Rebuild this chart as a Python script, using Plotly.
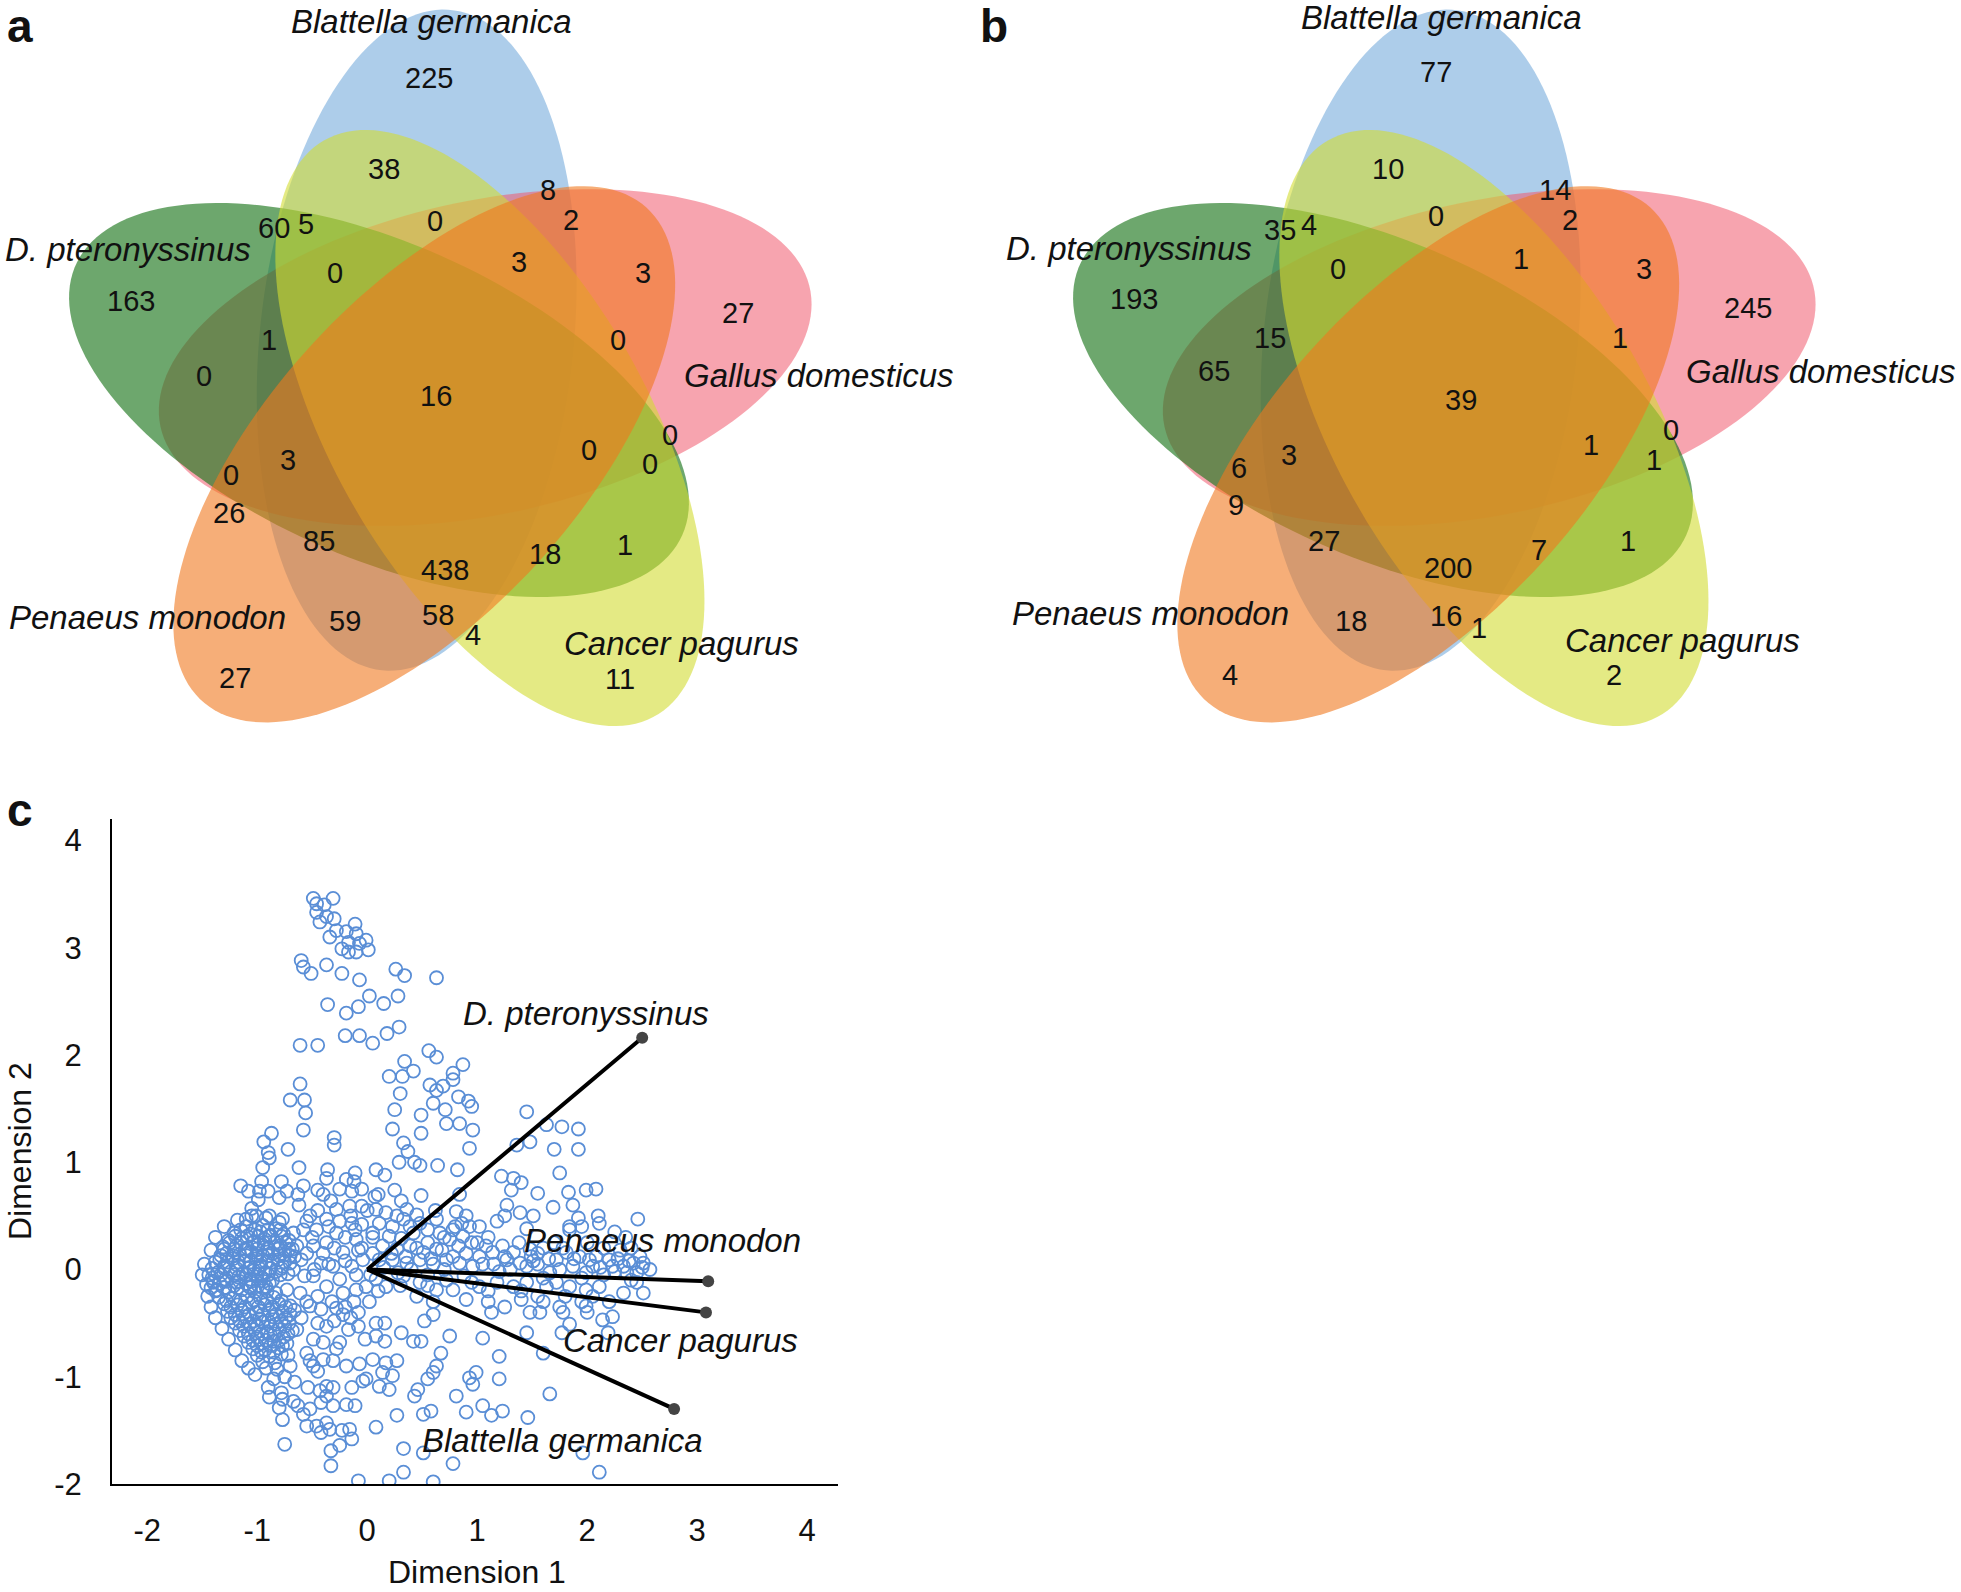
import numpy as np
import plotly.graph_objects as go

W, H = 1961, 1592      # reference frame used for all positions below
FIG_H = 1610           # page height (compensates the capture's vertical scaling)

# ---------------- DATA ----------------
species = ["Blattella germanica", "Gallus domesticus", "Cancer pagurus",
           "Penaeus monodon", "D. pteronyssinus"]

counts_a = [225, 38, 8, 0, 60, 5, 2, 3, 3, 0, 27, 163, 1, 0, 0, 16, 0, 0, 0,
            3, 0, 26, 85, 1, 18, 438, 59, 58, 4, 27, 11]
counts_b = [77, 10, 14, 0, 35, 4, 2, 1, 3, 0, 245, 193, 15, 1, 65, 39, 0, 1, 1,
            3, 6, 9, 27, 1, 7, 200, 18, 16, 1, 4, 2]

dim1 = [
 -0.49,-0.46,-0.31,-0.46,-0.39,-0.43,-0.37,-0.30,-0.34,-0.28,-0.19,-0.11,-0.10,-0.17,-0.23,-0.17,-0.10,-0.01,0.01,-0.07,
 -0.60,-0.58,-0.51,-0.37,-0.23,-0.07,0.26,0.34,0.63,-0.36,-0.19,-0.08,0.02,0.15,0.28,-0.61,-0.45,-0.20,-0.07,0.05,
 0.18,0.29,0.56,0.63,0.34,0.42,0.20,0.32,0.30,0.25,-0.61,-0.70,-0.57,-0.56,0.49,0.57,0.63,0.60,
 0.87,0.78,0.78,0.69,0.83,0.92,0.95,0.71,1.45,
 -0.58,-0.87,-0.30,-0.30,-0.94,-0.72,-0.90,-0.89,-0.95,-0.62,-0.36,-0.37,-0.11,-0.19,-0.12,-0.96,-0.78,-1.15,-1.08,-0.98,
 -0.90,-0.73,-0.58,-0.45,-0.63,-0.14,-0.33,-0.16,-0.05,-0.80,-0.99,-1.05,
 -0.52,-0.46,-0.37,-0.28,-0.49,-0.37,-0.28,-0.22,-0.42,-0.31,-0.49,-0.37,-0.25,-0.14,-0.11,-0.10,-0.04,-0.14,-0.22,-0.10,
 -0.01,-0.58,-0.60,-0.57,-0.61,-0.73,-0.83,-0.92,-1.07,-1.19,-1.40,-1.37,-1.10,-1.01,-0.89,-0.77,-0.67,-0.64,
 -1.10,-0.95,-0.83,-1.21,-1.06,-0.97,-0.88,-0.76,-1.26,-1.14,-1.03,-0.93,-0.84,-0.71,-1.31,-1.19,-1.09,-0.99,-0.90,-0.79,
 -0.68,-1.28,-1.16,-1.05,-0.95,-0.86,-0.75,-0.66,-1.34,-1.22,-1.12,-1.01,-0.92,-0.81,-0.70,-1.30,-1.18,-1.07,-0.97,-0.88,
 -0.77,-0.67,-1.36,-1.24,-1.13,-1.03,-0.93,-0.83,-0.72,-1.41,-1.29,-1.17,-1.06,-0.96,-0.86,-1.46,-1.34,-1.21,-1.10,-0.99,
 -0.89,-1.38,-1.26,-1.14,-1.02,-0.91,
 -1.35,-1.22,-1.09,-0.97,-0.85,-1.30,-1.18,-1.05,-0.93,-0.80,-0.70,-1.27,-1.14,-1.01,-0.89,-0.77,-0.66,-1.24,-1.11,-0.98,
 -0.86,-0.74,-1.20,-1.07,-0.95,-0.83,-0.71,-1.16,-1.03,-0.91,-0.80,-0.68,-1.12,-1.00,-0.88,-0.76,-1.08,-0.96,-0.85,-0.73,
 -1.04,-0.93,-0.81,-1.00,-0.89,-0.78,-0.95,-0.84,-0.92,-0.82,
 -0.90,-0.89,-0.78,-0.77,-0.80,-0.77,-0.66,-0.67,-0.63,-0.58,-0.55,-0.46,-0.37,-0.34,-0.42,-0.52,-0.54,-0.43,-0.37,-0.31,
 -0.42,-0.31,-0.37,-0.19,-0.11,-0.14,-0.04,-0.23,-0.16,-0.14,-0.25,-0.33,-0.33,-0.75,-0.08,
 -0.52,-0.42,-0.28,-0.22,-0.37,-0.49,-0.40,-0.28,-0.25,-0.17,-0.08,-0.02,-0.19,-0.07,-0.01,-0.49,-0.45,-0.52,-0.40,-0.31,
 -0.55,-0.64,
 0.23,0.49,0.72,0.84,0.96,0.33,0.37,0.93,1.36,1.48,1.63,1.77,1.92,1.70,1.92,0.08,0.16,0.29,0.43,0.48,
 0.64,0.82,1.22,1.33,1.40,1.31,1.75,1.55,1.83,1.99,2.08,1.87,1.69,0.07,0.25,0.31,0.49,0.84,1.27,1.39,
 1.25,1.51,2.46,2.10,2.11,1.92,1.84,1.95,
 0.08,0.17,0.27,0.36,0.45,0.11,0.23,0.33,0.39,0.48,0.05,0.20,0.31,0.42,0.55,0.63,0.66,0.14,0.27,0.39,
 0.51,0.63,0.11,0.23,0.36,0.48,0.60,
 0.81,0.90,0.86,0.78,0.93,0.87,0.83,1.02,0.75,1.08,1.14,1.02,0.96,0.84,0.72,1.23,1.33,1.27,1.39,1.48,
 1.49,1.51,1.45,
 1.84,1.81,1.72,1.87,2.02,2.05,2.08,2.20,2.23,2.33,2.42,2.51,2.57,2.45,2.36,1.99,1.66,
 0.08,0.17,0.33,0.48,0.63,0.78,1.02,1.18,1.33,1.45,1.63,1.72,1.84,1.99,2.11,2.33,2.51,
 0.08,0.16,0.08,0.16,0.31,0.42,0.49,0.52,0.60,0.75,1.05,1.13,1.45,1.48,1.57,1.78,1.77,1.84,1.99,2.14,
 2.23,2.19,1.60,1.20,0.67,0.05,0.17,0.27,0.14,0.23,0.11,0.20,0.63,0.60,0.55,0.46,0.43,0.93,0.99,0.96,
 1.20,0.81,0.90,1.05,1.13,1.23,1.46,1.66,0.51,0.58,0.27,0.08,0.33,0.51,0.78,0.33,2.11,1.96,
 -0.05,0.03,-0.12,0.05,0.20,0.60,
 0.15,0.28,0.40,0.55,0.70,0.88,1.05,1.20,1.30,1.55,1.60,1.75,1.93,1.95,2.15,2.28,2.40,2.30,2.15,2.00,
 1.70,1.60,1.10,0.95,0.70,0.55,0.45,0.60,0.90,1.10,1.25,1.40,1.60,1.80,1.95,2.05,2.20,2.40,2.48,2.35,
 -0.55,-0.45,-0.35,-0.25,-0.15,-0.05,-0.50,-0.40,-0.30,-0.20,-0.08,-0.55,-0.48,-0.35,-0.20,-0.10,-0.55,-0.45,-0.32,-0.20,
 -0.08,-0.60,-0.45,-0.30,-0.15,0.02,0.10,0.05,-0.62,-0.40,-0.25,-0.05,0.10,0.00,
 -1.50,-1.48,-1.42,-1.38,-1.30,-1.18,-1.05,-0.92,-0.80,-1.45,-1.42,-1.38,-1.32,-1.26,-1.20,-1.14,-1.08,-1.02,-0.72,-0.70,
 -0.75,-0.85,
 -1.15,-1.02,-0.90,-0.79,-1.20,-1.09,-0.99,-0.89,-0.78,-1.25,-1.15,-1.04,-0.94,-0.84,-0.74,-1.30,-1.21,-1.11,-1.00,-0.91,
 -0.81,-0.71,-1.33,-1.22,-1.10,-1.00,-0.90,-0.80,-0.70,-1.38,-1.27,-1.17,-1.06,-0.97,-0.86,-0.75,-1.41,-1.30,-1.19,-1.08,
 -0.98,-0.88,-0.78,-1.44,-1.33,-1.21,-1.10,-1.00,-0.90,-0.79,-1.40,-1.28,-1.16,-1.05,-0.94,-1.42,-1.30,-1.18,-1.06,-0.95,
 -1.28,-1.15,-1.03,-0.91,-0.78,-1.24,-1.11,-0.99,-0.86,-0.74,-1.20,-1.07,-0.95,-0.83,-0.70,-1.16,-1.03,-0.90,-0.78,-1.12,
 -1.00,-0.88,-0.75,-1.08,-0.96,-0.84,-0.72,-1.04,-0.92,-0.80,-1.00,-0.88,-0.77,-0.96,-0.85,
 0.22,0.35,0.45,0.58,0.68,0.78,0.90,1.00,1.15,1.25,1.38,1.55,1.65,1.78,1.88,2.12,2.25,2.38,2.50,2.45,
 0.30,0.55,0.72,0.95,1.10,1.40,1.55,1.75,2.00,0.80,0.62,1.18,1.45,2.25,
]
dim2 = [
 3.46,3.41,3.46,3.33,3.40,3.24,3.29,3.27,3.10,3.16,3.15,3.22,3.13,3.05,2.99,2.96,2.96,3.07,2.98,3.04,
 2.88,2.82,2.76,2.84,2.76,2.70,2.80,2.74,2.72,2.47,2.39,2.45,2.55,2.48,2.55,2.09,2.09,2.18,2.18,2.11,
 2.20,2.26,2.04,1.98,1.94,1.85,1.80,1.80,1.64,1.49,1.73,1.58,1.58,1.46,1.44,1.72,1.67,1.55,
 1.91,1.83,1.77,1.71,1.61,1.57,1.52,1.49,1.47,
 1.30,1.27,1.23,1.16,1.19,1.12,1.09,1.04,0.95,0.95,0.93,0.85,0.90,0.84,0.82,0.82,0.82,0.78,0.73,0.73,
 0.73,0.73,0.78,0.74,0.70,0.73,0.64,0.59,0.59,0.67,0.65,0.57,
 0.50,0.37,0.47,0.56,0.22,0.25,0.34,0.16,0.06,0.03,-0.06,-0.16,-0.09,0.43,0.37,0.28,0.09,0.03,-0.22,-0.19,
 -0.16,0.37,0.09,-0.06,-0.22,-0.19,-0.22,-0.16,-0.16,-0.12,-0.12,-0.19,0.47,0.50,0.50,0.47,0.34,0.22,
 0.40,0.41,0.38,0.34,0.33,0.35,0.32,0.33,0.27,0.29,0.26,0.28,0.25,0.27,0.21,0.22,0.20,0.23,0.20,0.22,
 0.19,0.15,0.14,0.16,0.13,0.15,0.14,0.12,0.09,0.10,0.08,0.10,0.07,0.09,0.06,0.03,0.04,0.02,0.04,0.01,
 0.03,0.00,-0.03,-0.02,-0.04,-0.01,-0.03,-0.02,-0.04,-0.08,-0.09,-0.07,-0.09,-0.08,-0.10,-0.14,-0.13,-0.15,-0.13,-0.15,
 -0.13,-0.20,-0.21,-0.19,-0.21,-0.20,
 -0.26,-0.27,-0.25,-0.27,-0.26,-0.32,-0.33,-0.31,-0.33,-0.32,-0.34,-0.39,-0.38,-0.40,-0.38,-0.39,-0.38,-0.45,-0.44,-0.46,
 -0.44,-0.45,-0.50,-0.51,-0.49,-0.51,-0.50,-0.57,-0.56,-0.58,-0.56,-0.57,-0.62,-0.63,-0.61,-0.63,-0.68,-0.69,-0.67,-0.69,
 -0.74,-0.75,-0.73,-0.80,-0.81,-0.79,-0.86,-0.87,-0.92,-0.93,
 -1.10,-1.19,-1.15,-1.21,-1.29,-1.40,-1.05,-1.23,-1.27,-1.35,-1.46,-1.46,-1.43,-1.49,-1.52,-1.30,-1.10,-1.13,-1.09,-1.10,
 -1.24,-1.27,-1.18,-1.26,-1.27,-1.10,-1.04,-1.50,-1.49,-1.58,-1.64,-1.69,-1.83,-1.63,-1.97,
 -0.34,-0.37,-0.36,-0.42,-0.53,-0.65,-0.68,-0.74,-0.68,-0.56,-0.53,-0.65,-0.90,-0.88,-1.02,-0.90,-0.95,-0.85,-0.84,-0.85,
 -0.78,-0.56,
 1.31,1.27,1.36,1.36,1.30,1.18,1.10,1.13,1.16,1.19,1.35,1.33,1.31,1.12,1.12,0.93,0.88,1.00,1.00,0.97,
 0.97,0.93,0.87,0.85,0.81,0.74,0.90,0.71,0.72,0.74,0.75,0.60,0.58,0.68,0.74,0.64,0.69,0.70,0.60,0.53,
 0.50,0.50,0.47,0.50,0.43,0.48,0.40,0.40,
 0.56,0.53,0.50,0.56,0.51,0.43,0.40,0.47,0.40,0.43,0.34,0.31,0.29,0.34,0.37,0.47,0.34,0.22,0.19,0.22,
 0.16,0.19,0.09,0.09,0.06,0.09,0.05,
 0.54,0.50,0.43,0.37,0.40,0.31,0.22,0.40,0.28,0.22,0.16,0.12,0.03,0.06,0.09,0.22,0.16,0.09,0.06,0.19,
 0.12,0.08,0.03,
 0.37,0.16,0.09,0.03,0.09,0.03,0.12,0.09,0.03,0.03,0.06,0.06,0.00,-0.03,-0.03,-0.03,-0.03,
 -0.09,-0.16,-0.06,-0.12,-0.19,-0.19,-0.16,-0.12,-0.16,-0.12,-0.16,-0.12,-0.16,-0.19,-0.16,-0.22,-0.22,
 -0.50,-0.50,-0.62,-0.67,-0.59,-0.67,-0.67,-0.48,-0.42,-0.62,-0.64,-0.40,-0.59,-0.40,-0.40,-0.40,-0.59,-0.51,-0.34,-0.47,
 -0.44,-0.59,-0.78,-0.81,-0.78,-0.84,-0.87,-0.85,-0.96,-0.99,-1.09,-1.12,-0.90,-0.96,-1.02,-1.12,-1.18,-1.01,-0.96,-1.07,
 -1.02,-1.18,-1.33,-1.27,-1.36,-1.32,-1.38,-1.16,-1.35,-1.32,-1.36,-1.47,-1.67,-1.71,-1.81,-1.89,-1.89,-1.71,
 0.20,-0.05,-0.30,0.30,-1.97,-1.98,
 0.02,-0.03,0.00,-0.05,0.00,-0.06,0.05,-0.02,0.00,0.05,-0.08,0.00,0.12,-0.08,-0.05,0.10,-0.10,0.18,0.20,0.25,
 0.25,0.20,0.30,0.25,0.30,0.25,-0.25,-0.30,-0.28,-0.30,-0.35,-0.28,-0.30,-0.25,-0.30,-0.25,-0.30,0.20,0.12,0.30,
 0.45,0.55,0.40,0.45,0.50,0.42,0.30,0.15,0.20,0.30,0.18,0.15,0.00,0.05,0.08,-0.05,-0.30,-0.25,-0.30,-0.35,
 -0.40,-0.45,-0.50,-0.48,-0.45,-0.30,-0.20,0.15,0.60,0.70,0.75,0.75,0.70,0.55,
 -0.05,0.05,0.18,0.30,0.40,0.46,0.50,0.48,0.44,-0.25,-0.35,-0.45,-0.55,-0.65,-0.75,-0.85,-0.92,-0.98,-0.80,-0.90,
 -1.00,-1.02,
 0.37,0.37,0.37,0.37,0.31,0.31,0.31,0.31,0.31,0.25,0.25,0.25,0.25,0.25,0.25,0.19,0.19,0.19,0.19,0.19,
 0.19,0.19,0.13,0.13,0.13,0.13,0.13,0.13,0.13,0.07,0.07,0.07,0.07,0.07,0.07,0.07,0.01,0.01,0.01,0.01,
 0.01,0.01,0.01,-0.05,-0.05,-0.05,-0.05,-0.05,-0.05,-0.05,-0.11,-0.11,-0.11,-0.11,-0.11,-0.17,-0.17,-0.17,-0.17,-0.17,
 -0.29,-0.29,-0.29,-0.29,-0.29,-0.35,-0.35,-0.35,-0.35,-0.35,-0.42,-0.42,-0.42,-0.42,-0.42,-0.48,-0.48,-0.48,-0.48,-0.53,
 -0.53,-0.53,-0.53,-0.60,-0.60,-0.60,-0.60,-0.66,-0.66,-0.66,-0.71,-0.71,-0.71,-0.77,-0.77,
 0.15,0.12,0.20,0.10,0.18,0.12,0.15,0.25,0.05,0.12,0.25,0.15,0.10,0.20,0.10,0.02,-0.02,0.08,0.02,-0.12,
 -0.15,-0.15,-0.10,-0.12,-0.20,-0.20,-0.25,-0.35,-0.40,0.40,0.55,0.45,0.38,0.35,
]

load_names = ["D. pteronyssinus", "Penaeus monodon", "Cancer pagurus", "Blattella germanica"]
load_x = [2.50, 3.10, 3.08, 2.79]
load_y = [2.16, -0.11, -0.40, -1.30]

x_ticks = [-2, -1, 0, 1, 2, 3, 4]
y_ticks = [-2, -1, 0, 1, 2, 3, 4]
x_tick_text = ["-2", "-1", "0", "1", "2", "3", "4"]
y_tick_text = ["-2", "-1", "0", "1", "2", "3", "4"]

# ---------------- LAYOUT GEOMETRY (pixels) ----------------
pos_a = [(343,62),(307,135),(438,152),(348,177),(219,182),(245,179),(457,176),(415,210),(514,218),(268,218),
         (590,250),(105,241),(215,272),(494,272),(163,301),(349,317),(536,348),(471,360),(520,371),(230,368),
         (185,380),(183,410),(255,433),(500,436),(436,443),(356,456),(276,497),(350,492),(378,508),(188,542),(496,543)]
pos_b = [(1149,58),(1110,135),(1244,152),(1149,173),(1024,184),(1047,180),(1256,176),(1217,207),(1315,215),(1070,215),
         (1398,246),(907,239),(1016,270),(1296,270),(971,297),(1169,320),(1337,344),(1273,356),(1323,368),(1031,364),
         (991,374),(989,404),(1059,433),(1302,433),(1231,440),(1158,454),(1081,497),(1157,493),(1183,502),(984,540),(1291,540)]
title_a = [(345,17),(655,300),(545,515),(118,494),(102,200)]
title_b = [(1153,14),(1457,297),(1346,512),(920,491),(903,199)]
S = 1.25  # shrunk-to-full scale for positions read above

def px(x):
    return x / W
def py(y):
    return 1 - y / H

fill = {"Blattella germanica": "rgba(91,155,213,0.50)",
        "Gallus domesticus": "rgba(240,90,110,0.55)",
        "D. pteronyssinus": "rgba(30,120,30,0.65)",
        "Cancer pagurus": "rgba(210,220,50,0.60)",
        "Penaeus monodon": "rgba(240,120,30,0.60)"}
rot_index = {"D. pteronyssinus": 0, "Blattella germanica": 1, "Gallus domesticus": 2,
             "Cancer pagurus": 3, "Penaeus monodon": 4}
draw_order = ["Blattella germanica", "Gallus domesticus", "D. pteronyssinus",
              "Cancer pagurus", "Penaeus monodon"]

base_off = np.array([-60.0, 4.0])
base_theta = 24.0
A_AX, B_AX = 157.0, 332.0

def ellipse_path(O, k):
    ang = np.deg2rad(72 * k)
    R = np.array([[np.cos(ang), -np.sin(ang)], [np.sin(ang), np.cos(ang)]])
    c = np.array(O) + R @ base_off
    th = np.deg2rad(base_theta + 72 * k)
    t = np.linspace(0, 2 * np.pi, 160)
    u, v = B_AX * np.cos(t), A_AX * np.sin(t)
    xs = c[0] + u * np.cos(th) - v * np.sin(th)
    ys = c[1] + u * np.sin(th) + v * np.cos(th)
    pts = [f"{px(x):.5f},{py(y):.5f}" for x, y in zip(xs, ys)]
    return "M " + " L ".join(pts) + " Z"

shapes = []
annotations = []
font_fam = "Liberation Sans, Arial, sans-serif"
for O in [(439, 396), (1443, 396)]:
    for name in draw_order:
        shapes.append(dict(type="path", path=ellipse_path(O, rot_index[name]),
                           xref="paper", yref="paper", fillcolor=fill[name],
                           line=dict(width=0), layer="above"))

def ann(x, y, text, size, **kw):
    d = dict(x=x, y=y, xref="paper", yref="paper", text=text, showarrow=False,
             xanchor="center", yanchor="middle",
             font=dict(family=font_fam, size=size, color="#111"))
    d.update(kw)
    annotations.append(d)

for counts, pos in [(counts_a, pos_a), (counts_b, pos_b)]:
    for v, (x, y) in zip(counts, pos):
        ann(px(x * S), py(y * S), str(v), 29)
for tpos in [title_a, title_b]:
    for name, (x, y) in zip(species, tpos):
        ann(px(x * S), py(y * S), f"<i>{name}</i>", 33)

for letter, (x, y) in zip(["a", "b", "c"], [(20, 26), (994, 26), (20, 810)]):
    ann(px(x), py(y), f"<b>{letter}</b>", 46)

ann(px(477), py(1572), "Dimension 1", 32)
ann(px(20), py(1151), "Dimension 2", 32, textangle=-90)

lab_pos = [(0.85, 2.39), (1.41, 0.27), (1.76, -0.66), (0.48, -1.59)]
for name, (x, y) in zip(load_names, lab_pos):
    annotations.append(dict(x=x, y=y, xref="x", yref="y", xanchor="left", yanchor="middle",
                            text=f"<i>{name}</i>", showarrow=False,
                            font=dict(family=font_fam, size=33, color="#111")))

fig = go.Figure()
fig.add_trace(go.Scatter(x=dim1, y=dim2, mode="markers",
                         marker=dict(symbol="circle-open", size=13,
                                     color="#5a8ed6", line=dict(width=1.8)),
                         showlegend=False, hoverinfo="skip"))
for lx, ly in zip(load_x, load_y):
    fig.add_trace(go.Scatter(x=[0, lx], y=[0, ly], mode="lines",
                             line=dict(color="#000", width=4), showlegend=False))
fig.add_trace(go.Scatter(x=load_x, y=load_y, mode="markers",
                         marker=dict(size=12, color="#444"), showlegend=False))

fig.update_layout(
    width=W, height=FIG_H, margin=dict(l=0, r=0, t=0, b=0),
    paper_bgcolor="white", plot_bgcolor="white",
    shapes=shapes, annotations=annotations, showlegend=False,
    xaxis=dict(domain=[112 / W, 838 / W], range=[-2.32, 4.28],
               tickvals=x_ticks, ticktext=x_tick_text,
               showgrid=False, zeroline=False, showline=True, linecolor="#000",
               linewidth=2, ticks="", ticklabelstandoff=18,
               tickfont=dict(family=font_fam, size=31, color="#111")),
    yaxis=dict(domain=[1 - 1484 / H, 1 - 819 / H], range=[-2, 4.2],
               tickvals=y_ticks, ticktext=y_tick_text,
               showgrid=False, zeroline=False, showline=True, linecolor="#000",
               linewidth=2, ticks="", ticklabelstandoff=22,
               tickfont=dict(family=font_fam, size=31, color="#111")),
)
fig.write_html(
    "out.html",
    config={"displayModeBar": False},
    post_script=("document.documentElement.style.overflow='hidden';"
                 "document.body.style.margin='0px';"
                 "document.body.style.overflow='hidden';"),
)
